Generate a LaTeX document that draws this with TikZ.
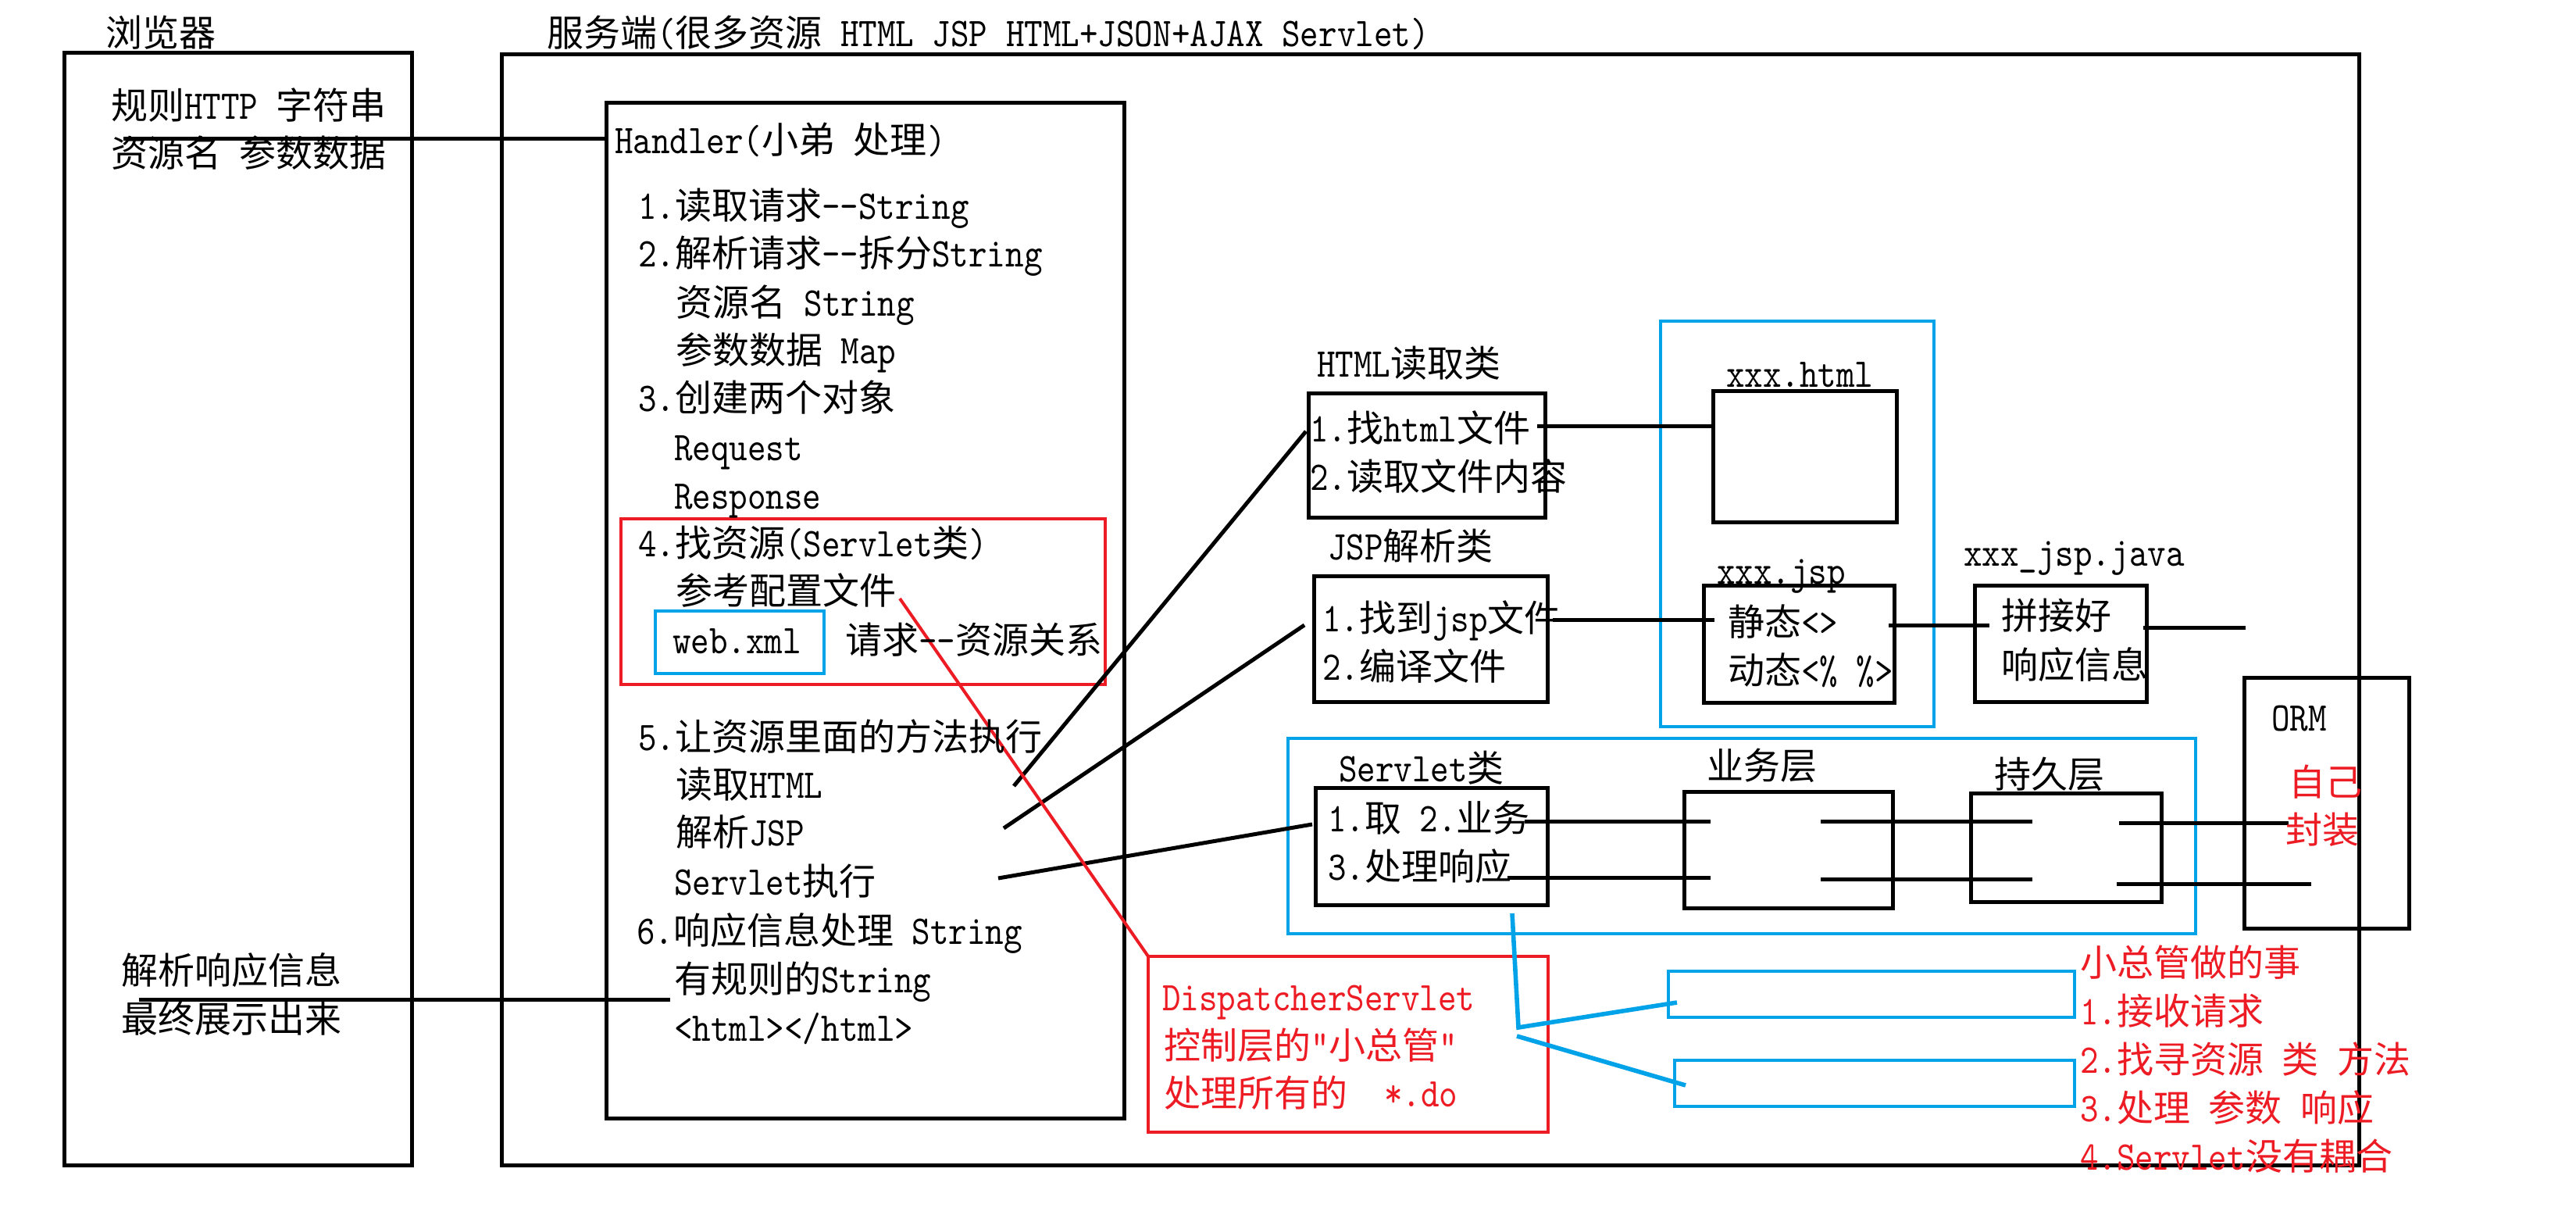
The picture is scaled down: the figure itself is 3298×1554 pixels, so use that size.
\documentclass[tikz,border=0pt]{standalone}
\usepackage{fontspec}
\usetikzlibrary{fit}
\newfontfamily\cjkf{Noto Sans CJK SC}
\newfontfamily\latf{lmmono10-regular.otf}[Scale=1.11, FakeStretch=0.86]
\XeTeXinterchartokenstate=1
\newXeTeXintercharclass\cjkclass
\makeatletter
\count@="2E80
\loop
  \XeTeXcharclass\count@=\cjkclass
  \advance\count@ by 1
\ifnum\count@<"A000 \repeat
\count@="FF00
\loop
  \XeTeXcharclass\count@=\cjkclass
  \advance\count@ by 1
\ifnum\count@<"FFF0 \repeat
\makeatother
\newcommand\latcur{\fontsize{11.75pt}{14pt}\latf}
\newcommand\cjkcur{\fontsize{11.75pt}{14pt}\cjkf}
\XeTeXinterchartoks 0 \cjkclass = {\cjkcur}
\XeTeXinterchartoks 4095 \cjkclass = {\cjkcur}
\XeTeXinterchartoks \cjkclass 0 = {\latcur}
\XeTeXinterchartoks \cjkclass 4095 = {\latcur}
\definecolor{rd}{HTML}{ED1C24}
\definecolor{bl}{HTML}{00A2E8}
\begin{document}
\begin{tikzpicture}[x=0.25pt,y=-0.25pt,
  bbox/.style={draw=black, line width=1.25pt, rectangle, inner sep=0pt, outer sep=0pt},
  rbox/.style={draw=rd, line width=1.2pt, rectangle, inner sep=0pt, outer sep=0pt},
  cbox/.style={draw=bl, line width=1.2pt, rectangle, inner sep=0pt, outer sep=0pt},
  lab/.style={anchor=base west, inner sep=0pt, outer sep=0pt, font=\latcur},
  rlab/.style={lab, text=rd},
  conn/.style={draw=black, line width=1.25pt},
  rconn/.style={draw=rd, line width=1pt},
  cconn/.style={draw=bl, line width=1.4pt},
]
\useasboundingbox (0,0) rectangle (3298,1554);
\fill[white] (0,0) rectangle (3298,1554);

% ---------- boxes ----------
\node[bbox, fit={(82,67) (527,1491)}] (browser) {};
\node[bbox, fit={(642,69) (3020,1491)}] (server) {};
\node[bbox, fit={(776,131) (1439,1431)}] (handler) {};
\node[rbox, fit={(795,664) (1415,876)}] (findres) {};
\node[cbox, fit={(839,782) (1055,862)}] (webxml) {};
\node[cbox, fit={(2126,411) (2476,930)}] (filegrp) {};
\node[bbox, fit={(1675,503) (1978,662)}] (htmlcls) {};
\node[bbox, fit={(2193,500) (2428,668)}] (xhtml) {};
\node[bbox, fit={(1682,737) (1981,898)}] (jspcls) {};
\node[bbox, fit={(2181,749) (2425,899)}] (xjsp) {};
\node[bbox, fit={(2528,749) (2748,898)}] (xjava) {};
\node[bbox, fit={(2873,867) (3084,1188)}] (orm) {};
\node[cbox, fit={(1649,945) (2811,1195)}] (svgrp) {};
\node[bbox, fit={(1684,1008) (1981,1158)}] (svcls) {};
\node[bbox, fit={(2156,1013) (2423,1162)}] (biz) {};
\node[bbox, fit={(2523,1015) (2767,1154)}] (persist) {};
\node[rbox, fit={(1470,1224) (1982,1449)}] (dispatch) {};
\node[cbox, fit={(2136,1243) (2656,1302)}] (slot1) {};
\node[cbox, fit={(2144,1357) (2656,1416)}] (slot2) {};

% ---------- connector ends ----------
\coordinate (c1) at (158,177);
\coordinate (c2a) at (178,1279);
\coordinate (c2b) at (858,1279);
\coordinate (c3a) at (1298,1006);
\coordinate (c3b) at (1672,552);
\coordinate (c4a) at (1285,1060);
\coordinate (c4b) at (1670,800);
\coordinate (c5a) at (1278,1124);
\coordinate (c5b) at (1680,1055);
\coordinate (c6a) at (1968,545);
\coordinate (c6b) at (2196,545);
\coordinate (c7a) at (1988,793);
\coordinate (c7b) at (2195,793);
\coordinate (c8a) at (2418,800);
\coordinate (c8b) at (2547,800);
\coordinate (c9a) at (2744,803);
\coordinate (c9b) at (2875,803);
\coordinate (s1a) at (1952,1051);
\coordinate (s1b) at (2190,1051);
\coordinate (s2a) at (1930,1123);
\coordinate (s2b) at (2190,1123);
\coordinate (s3a) at (2331,1051);
\coordinate (s3b) at (2602,1051);
\coordinate (s4a) at (2331,1125);
\coordinate (s4b) at (2602,1125);
\coordinate (s5a) at (2713,1053);
\coordinate (s5b) at (2930,1053);
\coordinate (s6a) at (2710,1131);
\coordinate (s6b) at (2959,1131);
\coordinate (rr) at (1152,766);
\coordinate (u0) at (1936,1169);
\coordinate (u1) at (1944,1315);
\coordinate (u2) at (2147,1283);
\coordinate (u3) at (1942,1326);
\coordinate (u4) at (2158,1389);

% ---------- connectors ----------
\draw[conn] (c1) -- (c1 -| handler.west);
\draw[conn] (c2a) -- (c2b);
\draw[conn] (c3a) -- (c3b);
\draw[conn] (c4a) -- (c4b);
\draw[conn] (c5a) -- (c5b);
\draw[conn] (c6a) -- (c6b);
\draw[conn] (c7a) -- (c7b);
\draw[conn] (c8a) -- (c8b);
\draw[conn] (c9a) -- (c9b);
\draw[conn] (s1a) -- (s1b);
\draw[conn] (s2a) -- (s2b);
\draw[conn] (s3a) -- (s3b);
\draw[conn] (s4a) -- (s4b);
\draw[conn] (s5a) -- (s5b);
\draw[conn] (s6a) -- (s6b);
\draw[rconn] (rr) -- (dispatch.north west);
\draw[cconn] (u0) -- (u1) -- (u2);
\draw[cconn] (u3) -- (u4);

% ---------- texts ----------
\node[lab] (tb0) at (135,59) {浏览器};
\node[lab] (tb1) at (142,152) {规则HTTP 字符串};
\node[lab] (tb2) at (142,213) {资源名 参数数据};
\node[lab] (tb3) at (155,1259) {解析响应信息};
\node[lab] (tb4) at (155,1321) {最终展示出来};
\node[lab] (ts0) at (700,59) {服务端(很多资源 HTML JSP HTML+JSON+AJAX Servlet)};

\node[lab] (th0) at (787,196) {Handler(小弟 处理)};
\node[lab] (th1) at (817,280) {1.读取请求-{}-String};
\node[lab] (th2) at (817,341) {2.解析请求-{}-拆分String};
\node[lab] (th3) at (865,404) {资源名 String};
\node[lab] (th4) at (865,465) {参数数据 Map};
\node[lab] (th5) at (817,526) {3.创建两个对象};
\node[lab] (th6) at (863,589) {Request};
\node[lab] (th7) at (863,651) {Response};
\node[lab] (th8) at (817,712) {4.找资源(Servlet类)};
\node[lab] (th9) at (865,773) {参考配置文件};
\node[lab] (th10) at (861,836) {web.xml};
\node[lab] (th11) at (1082,836) {请求-{}-资源关系};
\node[lab] (th12) at (817,960) {5.让资源里面的方法执行};
\node[lab] (th13) at (865,1021) {读取HTML};
\node[lab] (th14) at (865,1082) {解析JSP};
\node[lab] (th15) at (863,1145) {Servlet执行};
\node[lab] (th16) at (815,1208) {6.响应信息处理 String};
\node[lab] (th17) at (863,1270) {有规则的String};
\node[lab] (th18) at (863,1332) {<html></html>};

\node[lab] (tr0) at (1686,482) {HTML读取类};
\node[lab] (tr1) at (1677,565) {1.找html文件};
\node[lab] (tr2) at (1677,627) {2.读取文件内容};
\node[lab] (tr3) at (2210,495) {xxx.html};
\node[lab] (tr4) at (1700,716) {JSP解析类};
\node[lab] (tr5) at (1693,808) {1.找到jsp文件};
\node[lab] (tr6) at (1693,870) {2.编译文件};
\node[lab] (tr7) at (2198,747) {xxx.jsp};
\node[lab] (tr8) at (2212,813) {静态<>};
\node[lab] (tr9) at (2212,875) {动态<\% \%>};
\node[lab] (tr10) at (2514,724) {xxx\_jsp.java};
\node[lab] (tr11) at (2562,805) {拼接好};
\node[lab] (tr12) at (2562,868) {响应信息};
\node[lab] (tr13) at (2908,935) {ORM};
\node[rlab] (tr14) at (2930,1018) {自己};
\node[rlab] (tr15) at (2926,1079) {封装};

\node[lab] (tv0) at (1714,1000) {Servlet类};
\node[lab] (tv1) at (2185,997) {业务层};
\node[lab] (tv2) at (2553,1008) {持久层};
\node[lab] (tv3) at (1700,1064) {1.取 2.业务};
\node[lab] (tv4) at (1700,1126) {3.处理响应};

\node[rlab] (td0) at (1488,1293) {DispatcherServlet};
\node[rlab] (td1) at (1490,1355) {控制层的"小总管"};
\node[rlab] (td2) at (1490,1416) {处理所有的\ \ *.do};

\node[rlab] (tl0) at (2663,1249) {小总管做的事};
\node[rlab] (tl1) at (2663,1311) {1.接收请求};
\node[rlab] (tl2) at (2663,1373) {2.找寻资源 类 方法};
\node[rlab] (tl3) at (2663,1435) {3.处理 参数 响应};
\node[rlab] (tl4) at (2663,1497) {4.Servlet没有耦合};
\end{tikzpicture}
\end{document}
